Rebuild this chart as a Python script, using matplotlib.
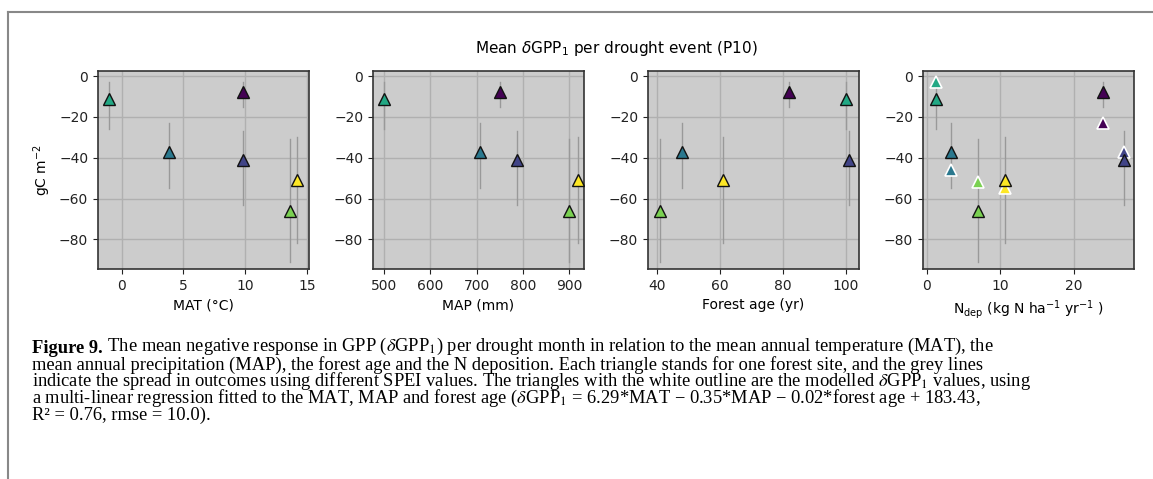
import matplotlib
matplotlib.use('Agg')
import matplotlib.pyplot as plt
import numpy as np
from matplotlib import rcParams

rcParams['font.family'] = 'DejaVu Sans'
rcParams['font.size'] = 10

# Site data (one value per forest site)
mat = [9.8, 9.8, 3.8, -1.0, 13.6, 14.2]
map_mm = [750, 787, 708, 500, 900, 920]
age = [82, 101, 48, 100, 41, 61]
ndep = [24.0, 26.8, 3.3, 1.3, 7.0, 10.6]
dgpp = [-8, -41, -37, -11, -66, -51]
dgpp_lo = [-15, -63, -55, -26, -91, -82]
dgpp_hi = [-3, -27, -23, -3, -31, -30]
dgpp_model = [-23, -37, -46, -3, -52, -55]
site_col = [0.0, 0.2, 0.4, 0.6, 0.8, 1.0]

xlabels = ['MAT (°C)', 'MAP (mm)', 'Forest age (yr)',
           r'N$_{\mathrm{dep}}$ (kg N ha$^{-1}$ yr$^{-1}$ )']
xdata = [mat, map_mm, age, ndep]
xlims = [(-1.9, 15.15), (476, 932), (37.1, 104.1), (-0.5, 28.2)]
xticks = [[0, 5, 10, 15], [500, 600, 700, 800, 900], [40, 60, 80, 100], [0, 10, 20]]

caption = [
    r" The mean negative response in GPP ($\delta$GPP$_1$) per drought month in relation to the mean annual temperature (MAT), the",
    r"mean annual precipitation (MAP), the forest age and the N deposition. Each triangle stands for one forest site, and the grey lines",
    r"indicate the spread in outcomes using different SPEI values. The triangles with the white outline are the modelled $\delta$GPP$_1$ values, using",
    r"a multi-linear regression fitted to the MAT, MAP and forest age ($\delta$GPP$_1$ = 6.29*MAT − 0.35*MAP − 0.02*forest age + 183.43,",
    "R² = 0.76, rmse = 10.0).",
]

W, H = 1153, 479
fig = plt.figure(figsize=(W / 100, H / 100), dpi=100)
cmap = plt.get_cmap('viridis')
colors = [cmap(c) for c in site_col]

lefts = [98, 373, 648, 923]
for i in range(4):
    ax = fig.add_axes([lefts[i] / W, 1 - 269 / H, 211 / W, 198 / H])
    ax.set_facecolor('#cccccc')
    ax.grid(True, color='#b0b0b0', lw=1)
    ax.set_axisbelow(True)
    for s in ax.spines.values():
        s.set_color('#333333')
        s.set_linewidth(1.2)
    x = xdata[i]
    for j in range(len(x)):
        ax.plot([x[j], x[j]], [dgpp_lo[j], dgpp_hi[j]], color='#999999', lw=1, zorder=2)
    if i == 3:
        for j in range(len(x)):
            ax.plot(x[j], dgpp_model[j], marker='^', ms=9, color=colors[j],
                    mec='white', mew=1.2, ls='none', zorder=3)
    for j in range(len(x)):
        ax.plot(x[j], dgpp[j], marker='^', ms=9, color=colors[j],
                mec='#111111', mew=1.0, ls='none', zorder=4)
    ax.set_xlim(xlims[i])
    ax.set_ylim(-94.5, 2.5)
    ax.set_xticks(xticks[i])
    ax.set_yticks([0, -20, -40, -60, -80])
    ax.set_xlabel(xlabels[i])
    if i == 0:
        ax.set_ylabel(r'gC m$^{-2}$')
    ax.tick_params(colors='#222222')

fig.text(616 / W, 1 - 48 / H, r'Mean $\delta$GPP$_1$ per drought event (P10)',
         ha='center', va='center', fontsize=11)

# page frame
fig.add_artist(plt.Line2D([8 / W, 8 / W], [0, 1 - 12 / H], color='#888888', lw=1.5))
fig.add_artist(plt.Line2D([8 / W, 1], [1 - 12 / H, 1 - 12 / H], color='#888888', lw=1.5))

cap_fs = 13.3
base_y = [353, 370, 386.5, 403, 420]
t1 = fig.text(32 / W, 1 - base_y[0] / H, 'Figure 9.', family='Liberation Serif',
              weight='bold', fontsize=cap_fs, va='baseline')
fig.axes[0].annotate(caption[0], xy=(1, 0), xycoords=t1, va='bottom', ha='left',
                     family='Liberation Serif', fontsize=cap_fs, math_fontfamily='stix',
                     annotation_clip=False)
for k in range(1, 5):
    fig.text(32 / W, 1 - base_y[k] / H, caption[k], family='Liberation Serif',
             fontsize=cap_fs, va='baseline', math_fontfamily='stix')

fig.savefig('out.png', dpi=100)
